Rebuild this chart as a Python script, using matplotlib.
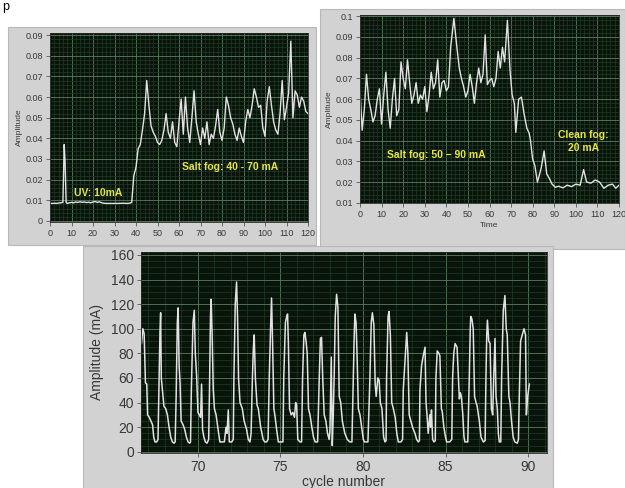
import matplotlib
matplotlib.use("Agg")
import matplotlib.pyplot as plt
from matplotlib.patches import Rectangle
from matplotlib.ticker import MultipleLocator, FuncFormatter

plt.rcParams['font.family'] = ['Liberation Sans', 'DejaVu Sans']

# ---------------- data ----------------
# Panel 1: UV then salt fog (40-70 mA)
p1_x = [0, 1, 2, 3, 4, 5, 6, 6.6, 7, 7.5, 8, 9, 10, 11, 12, 13, 14, 15, 16, 17, 18, 19, 20,
        21, 22, 23, 24, 25, 26, 28, 30, 32, 34, 36, 37, 38, 39, 40, 41, 42, 43, 44, 45,
        46, 47, 48, 49, 50, 51, 52, 53, 54, 55, 56, 57, 58, 59, 60, 61, 62, 63, 64, 65,
        66, 67, 68, 69, 70, 71, 72, 73, 74, 75, 76, 77, 78, 79, 80, 81, 82, 83, 84, 85,
        86, 87, 88, 89, 90, 91, 92, 93, 94, 95, 96, 97, 98, 99, 100, 101, 102, 103, 104,
        105, 106, 107, 108, 109, 110, 111, 112, 113, 114, 115, 116, 117, 118, 119, 120]
p1_y = [.0085, .0085, .0086, .0085, .0087, .0088, .0090, .0370, .0290, .0090, .0085, .0088,
        .0090, .0088, .0092, .0090, .0093, .0090, .0092, .0089, .0091, .0088, .0092,
        .0094, .0090, .0093, .0088, .0086, .0085, .0085, .0085, .0085, .0086, .0085,
        .0086, .0090, .0220, .0260, .0350, .0370, .0440, .0520, .0680,
        .0560, .0460, .0430, .0410, .0380, .0370, .0390, .0440, .0520, .0430, .0400,
        .0480, .0380, .0360, .0480, .0590, .0420, .0600, .0450, .0380,
        .0500, .0630, .0480, .0420, .0370, .0450, .0400, .0480, .0370, .0420, .0400,
        .0460, .0540, .0430, .0390, .0450, .0600, .0560, .0500, .0470,
        .0420, .0390, .0450, .0410, .0380, .0480, .0540, .0500, .0560, .0640, .0600,
        .0550, .0560, .0450, .0410, .0580, .0650, .0560, .0480,
        .0440, .0420, .0520, .0680, .0490, .0550, .0620, .0870, .0500, .0630, .0610,
        .0550, .0600, .0580, .0530, .0520]

# Panel 2: salt fog (50-90 mA) then clean fog (20 mA)
p2_x = [0, 1, 2, 3, 4, 5, 6, 7, 8, 9, 10, 11, 12, 13, 14, 15, 16, 17, 18, 19, 20, 21, 22,
        23, 24, 25, 26, 27, 28, 29, 30, 31, 32, 33, 34, 35, 36, 37, 38, 39, 40, 41, 42,
        43.5, 45, 46, 47, 48, 49, 50, 51, 52, 53, 54, 55, 56, 57, 58, 59, 60, 61, 62, 63,
        64, 65, 66, 67, 68.3, 69.5, 70.5, 71.5, 72.2, 73.5, 74.8, 76, 77.3, 78.4, 79, 80,
        81, 82.2, 83, 84, 85.3, 86.5, 87.6, 89, 90.5, 92, 94, 96, 98, 100, 102, 103.6,
        105, 107, 109, 111, 113, 115, 117, 118.5, 120]
p2_y = [.064, .045, .055, .072, .060, .055, .049, .052, .060, .065, .048, .062, .073, .055,
        .046, .060, .070, .052, .055, .078, .070, .065, .079, .068, .058, .062, .068, .058,
        .062, .060, .066, .054, .062, .073, .065, .068, .079, .061, .068, .069, .064, .066,
        .085, .099, .084, .075, .070, .066, .061, .064, .072, .066, .058, .068, .075, .068,
        .072, .091, .067, .069, .070, .066, .070, .083, .075, .085, .078, .098, .074, .062,
        .058, .044, .060, .061, .053, .046, .0435, .040, .031, .028, .020, .023, .027, .035,
        .024, .022, .019, .0175, .018, .0172, .0185, .0178, .0190, .0185, .026, .020,
        .0195, .021, .020, .017, .0185, .019, .017, .0185]

# Panel 3: amplitude (mA) vs cycle number
p3_x = [66.58, 66.66, 66.74, 66.82, 66.9, 66.95, 67.05, 67.15, 67.25, 67.32, 67.4, 67.5, 67.58,
        67.63, 67.70, 67.74, 67.78, 67.86, 67.94, 68.05, 68.15, 68.25, 68.35, 68.45, 68.55, 68.62,
        68.68, 68.75, 68.80, 68.86, 68.92, 68.98, 69.1, 69.2, 69.3, 69.4, 69.5, 69.55,
        69.6, 69.7, 69.78, 69.84, 69.92, 70.0, 70.08, 70.16, 70.22, 70.28, 70.36, 70.45, 70.55, 70.65,
        70.70, 70.76, 70.80, 70.86, 70.93, 71.0, 71.1, 71.2, 71.33, 71.45, 71.6, 71.7, 71.76, 71.84,
        71.9, 72.05, 72.14,
        72.18, 72.26, 72.34, 72.40, 72.46, 72.55, 72.69, 72.8, 72.95, 73.05, 73.15,
        73.22, 73.3, 73.36, 73.41, 73.48, 73.58, 73.66, 73.8, 73.95, 74.05, 74.16, 74.25,
        74.32, 74.40, 74.46, 74.52, 74.6, 74.66, 74.75, 74.87, 75.0, 75.15,
        75.2, 75.3, 75.38, 75.43, 75.48, 75.55, 75.65, 75.75, 75.85, 75.92, 75.98, 76.05, 76.18, 76.28,
        76.34, 76.42, 76.48, 76.55, 76.62, 76.7, 76.79, 76.9, 77.0, 77.1, 77.25,
        77.35, 77.42, 77.49, 77.56, 77.65, 77.75, 77.85, 77.95, 78.0, 78.08, 78.14, 78.2, 78.26,
        78.32, 78.40, 78.48, 78.56, 78.65, 78.75, 78.9, 79.05, 79.2, 79.33,
        79.41, 79.47, 79.51, 79.58, 79.64, 79.72, 79.82, 79.92, 80.02, 80.1, 80.3,
        80.42, 80.5, 80.57, 80.66, 80.74, 80.8, 80.9, 80.98, 81.05, 81.15, 81.25, 81.33, 81.4,
        81.43, 81.52, 81.58, 81.66, 81.74, 81.84, 81.95, 82.05, 82.14, 82.3, 82.4,
        82.44, 82.55, 82.65, 82.72, 82.8, 82.9, 83.0, 83.15, 83.25, 83.35, 83.42,
        83.45, 83.55, 83.65, 83.76, 83.82, 83.88, 83.95, 84.05, 84.1, 84.15, 84.22, 84.3, 84.38,
        84.42, 84.5, 84.6, 84.66, 84.75, 84.8, 84.9, 85.0, 85.07, 85.25, 85.38,
        85.43, 85.5, 85.58, 85.7, 85.78, 85.84, 85.9, 85.96, 86.05, 86.12, 86.18, 86.35,
        86.44, 86.5, 86.53, 86.6, 86.68, 86.76, 86.85, 86.92, 87.05, 87.15, 87.29, 87.4,
        87.45, 87.5, 87.54, 87.62, 87.7, 87.78, 87.86, 87.92, 88.0, 88.06, 88.14, 88.2, 88.26, 88.35,
        88.4, 88.5, 88.6, 88.68, 88.74, 88.84, 88.91, 89.0, 89.1, 89.2, 89.35, 89.42,
        89.47, 89.55, 89.65, 89.76, 89.85, 89.9, 89.98, 90.08]
p3_y = [88, 100, 96, 56, 55, 30, 28, 25, 22, 12, 8, 8, 10,
        45, 98, 113, 60, 48, 37, 35, 30, 20, 12, 8, 7, 8,
        45, 105, 117, 70, 55, 25, 22, 18, 12, 8, 7, 8,
        50, 105, 115, 80, 62, 32, 30, 28, 55, 18, 12, 8, 7, 10,
        50, 110, 124, 95, 50, 35, 30, 20, 8, 8, 8, 20, 15, 34,
        8, 8, 10,
        60, 120, 138, 110, 60, 40, 35, 25, 18, 10, 8,
        15, 60, 85, 95, 60, 38, 35, 20, 10, 8, 8, 10,
        60, 100, 125, 90, 35, 30, 20, 8, 8, 8,
        60, 105, 110, 112, 88, 35, 30, 32, 28, 40, 38, 10, 8, 8,
        60, 95, 97, 90, 80, 35, 30, 20, 12, 8, 8,
        60, 92, 93, 60, 30, 25, 15, 10, 18, 77, 5, 30, 65,
        110, 128, 118, 45, 40, 25, 15, 10, 8, 8,
        60, 95, 112, 105, 80, 35, 30, 20, 10, 8, 8,
        60, 105, 113, 103, 55, 45, 60, 58, 40, 35, 12, 8, 9,
        60, 110, 114, 95, 40, 35, 28, 15, 8, 8, 10,
        50, 75, 97, 80, 30, 25, 20, 15, 10, 8, 9,
        50, 70, 78, 85, 40, 30, 15, 30, 20, 34, 10, 8, 9,
        60, 82, 80, 78, 35, 33, 20, 12, 8, 8, 10,
        60, 80, 88, 85, 62, 43, 48, 45, 30, 12, 8, 8,
        60, 100, 110, 108, 100, 45, 40, 37, 25, 12, 8, 9,
        60, 95, 107, 90, 88, 35, 30, 60, 92, 45, 35, 15, 8, 8,
        60, 115, 127, 100, 95, 45, 40, 25, 12, 8, 7, 10,
        45, 90, 95, 100, 95, 30, 45, 55]

# ---------------- styling ----------------
W, H = 625, 488
FRAME = '#d2d2d2'
BG = '#08130a'
MAJ = '#5b7d5f'
MIN = '#223a27'
LINE = '#e2e2e2'
TXT = '#383838'
YEL = '#e6e43c'

fig = plt.figure(figsize=(6.25, 4.88), dpi=100)
fig.patch.set_facecolor('white')


def frac_rect(x0, y0, x1, y1):
    return [x0 / W, (H - y1) / H, (x1 - x0) / W, (y1 - y0) / H]


def add_frame(x0, y0, x1, y1, z):
    r = Rectangle((x0 / W, (H - y1) / H), (x1 - x0) / W, (y1 - y0) / H,
                  transform=fig.transFigure, facecolor=FRAME, edgecolor='#b8b8b8',
                  linewidth=0.8, zorder=z)
    fig.add_artist(r)


def style_ax(ax, fs):
    ax.set_facecolor(BG)
    for s in ax.spines.values():
        s.set_color('#2a2a2a')
        s.set_linewidth(0.6)
    ax.grid(which='major', color=MAJ, linewidth=0.6)
    ax.grid(which='minor', color=MIN, linewidth=0.5)
    ax.set_axisbelow(True)
    ax.tick_params(which='major', direction='out', length=3, width=0.6,
                   colors='#555555', labelsize=fs, labelcolor=TXT, pad=2)
    ax.tick_params(which='minor', length=0)


# Panel 1
add_frame(8, 27, 316, 245, 1)
ax1 = fig.add_axes(frac_rect(50, 33, 308, 222), zorder=2)
style_ax(ax1, 6.5)
ax1.plot(p1_x, p1_y, color=LINE, lw=1.0)
ax1.set_xlim(0, 120)
ax1.set_ylim(-0.0005, 0.091)
ax1.xaxis.set_major_locator(MultipleLocator(10))
ax1.xaxis.set_minor_locator(MultipleLocator(2))
ax1.yaxis.set_major_locator(MultipleLocator(0.01))
ax1.yaxis.set_minor_locator(MultipleLocator(0.002))
ax1.yaxis.set_major_formatter(FuncFormatter(lambda v, p: '0' if abs(v) < 1e-9 else f'{v:.2f}'))
ax1.set_ylabel('Amplitude', fontsize=6, color=TXT, labelpad=2)
ax1.text(22.5, 0.0135, 'UV: 10mA', color=YEL, fontsize=7.5, fontweight='bold',
         ha='center', va='center')
ax1.text(84, 0.026, 'Salt fog: 40 - 70 mA', color=YEL, fontsize=7.5, fontweight='bold',
         ha='center', va='center')

# Panel 2
add_frame(320, 9, 625, 249, 3)
ax2 = fig.add_axes(frac_rect(360, 15, 619, 203), zorder=4)
style_ax(ax2, 6.5)
ax2.plot(p2_x, p2_y, color=LINE, lw=1.0)
ax2.set_xlim(0, 120)
ax2.set_ylim(0.0099, 0.1006)
ax2.xaxis.set_major_locator(MultipleLocator(10))
ax2.xaxis.set_minor_locator(MultipleLocator(2))
ax2.set_yticks([0.01, 0.02, 0.03, 0.04, 0.05, 0.06, 0.07, 0.08, 0.09, 0.1])
ax2.yaxis.set_minor_locator(MultipleLocator(0.002))
ax2.yaxis.set_major_formatter(FuncFormatter(lambda v, p: '0.1' if abs(v - 0.1) < 1e-9 else f'{v:.2f}'))
ax2.set_ylabel('Amplitude', fontsize=6, color=TXT, labelpad=2)
ax2.set_xlabel('Time', fontsize=6, color=TXT, labelpad=2)
ax2.text(35.5, 0.033, 'Salt fog: 50 \u2013 90 mA', color=YEL, fontsize=7.5, fontweight='bold',
         ha='center', va='center')
ax2.text(103.5, 0.0396, 'Clean fog:\n20 mA', color=YEL, fontsize=7.5, fontweight='bold',
         ha='center', va='center', linespacing=1.4)

# Panel 3
add_frame(83, 246, 553, 492, 5)
ax3 = fig.add_axes(frac_rect(141, 252, 547, 453), zorder=6)
style_ax(ax3, 10)
ax3.plot(p3_x, p3_y, color=LINE, lw=1.1)
ax3.set_xlim(66.55, 91.15)
ax3.set_ylim(-1, 162.4)
ax3.xaxis.set_major_locator(MultipleLocator(5))
ax3.xaxis.set_minor_locator(MultipleLocator(1))
ax3.yaxis.set_major_locator(MultipleLocator(20))
ax3.yaxis.set_minor_locator(MultipleLocator(5))
ax3.set_ylabel('Amplitude (mA)', fontsize=10, color=TXT, labelpad=5)
ax3.set_xlabel('cycle number', fontsize=10, color=TXT, labelpad=1)

fig.text(0.004, 0.998, 'p', fontsize=9, color='black', ha='left', va='top')

fig.savefig('out.png', dpi=100, facecolor='white')
